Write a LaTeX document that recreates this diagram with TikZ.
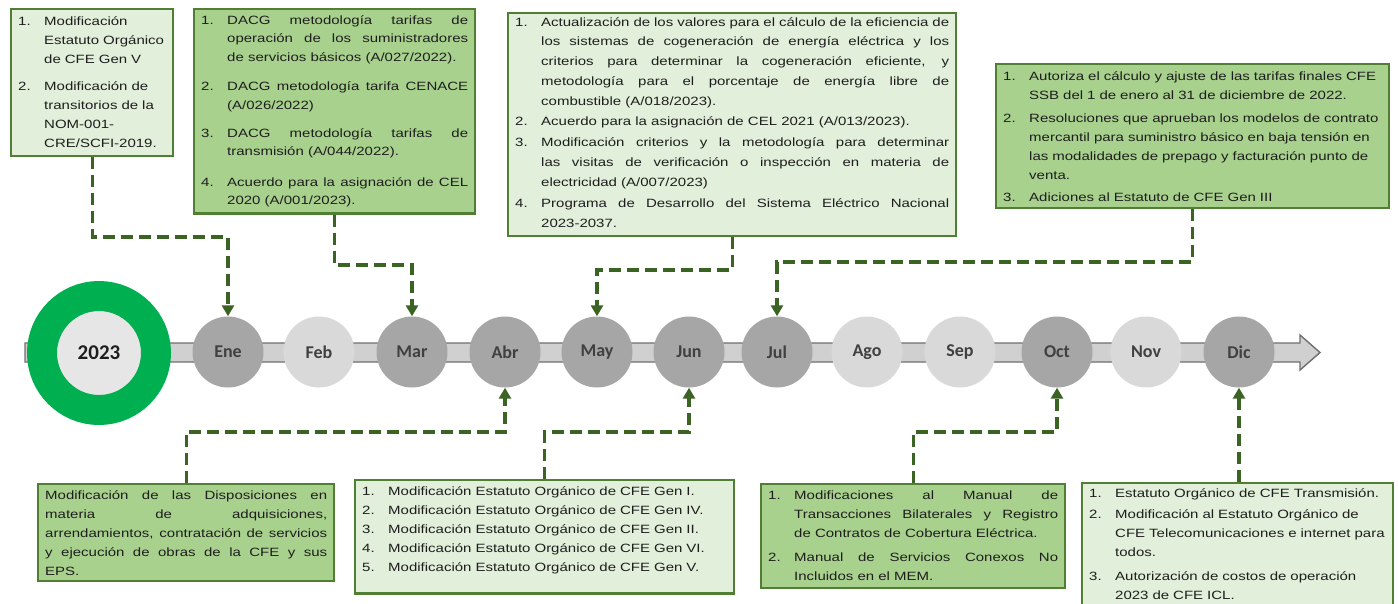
\documentclass[tikz,border=0pt]{standalone}
\usepackage{fontspec}
\setmainfont{Liberation Sans}[FakeStretch=1.25]
\newfontfamily\mesfuente{Carlito}
\usepackage{xcolor}
\usetikzlibrary{positioning}
\usetikzlibrary{arrows.meta}

\definecolor{claro}{HTML}{E2EFDA}
\definecolor{medio}{HTML}{A9D18E}
\definecolor{borde}{HTML}{507E32}
\definecolor{liga}{HTML}{3B6323}
\definecolor{anillo}{HTML}{00B050}
\definecolor{centro}{HTML}{E7E6E6}
\definecolor{mesoscuro}{HTML}{A6A6A6}
\definecolor{mesclaro}{HTML}{D9D9D9}
\definecolor{texto}{HTML}{1E1E1E}
\definecolor{barraborde}{HTML}{6F6F6F}
\definecolor{barrafondo}{HTML}{D0D0D0}

\newcommand{\cajatexto}{\fontsize{12}{19}\selectfont\hyphenpenalty=10000\emergencystretch=2em\relax}
\newcommand{\punto}[3][0pt]{\vspace{#1}\noindent\hangindent=26pt\hangafter=1\makebox[26pt][l]{#2.}#3\par}

\tikzset{
  caja/.style={draw=borde, line width=2.4pt, anchor=north west, inner xsep=7pt, inner ysep=5pt, text=texto, font=\cajatexto},
  cajaclara/.style={caja, fill=claro},
  cajamedia/.style={caja, fill=medio},
  mes/.style={circle, minimum size=71pt, inner sep=0pt, fill=mesoscuro, text=black!75, font=\mesfuente\bfseries\fontsize{18}{18}\selectfont},
  mesclaro/.style={mes, fill=mesclaro},
  liga/.style={draw=liga, line width=3.4pt, dash pattern=on 12pt off 6pt, -{Triangle[width=12pt,length=11pt]}}
}

\begin{document}
\begin{tikzpicture}[x=1pt, y=-1pt]
\useasboundingbox (0,0) rectangle (1398,603);

% barra del tiempo
\draw[line width=1.4pt, draw=barraborde, fill=barrafondo] (25,343) -- (1300,343) -- (1300,335) -- (1320,352.5) -- (1300,370) -- (1300,362) -- (25,362) -- cycle;

\node[circle, draw=anillo, line width=30pt, fill=centro, minimum size=114pt, inner sep=0pt, text=texto, font=\mesfuente\bfseries\fontsize{21}{21}\selectfont] (anio) at (99,353) {2023};

\node[mes] (ene) at (228,352) {Ene};
\node[mesclaro] (feb) at (319,352) {Feb};
\node[mes] (mar) at (412,352) {Mar};
\node[mes] (abr) at (505,352) {Abr};
\node[mes] (may) at (597,352) {May};
\node[mes] (jun) at (689,352) {Jun};
\node[mes] (jul) at (777,352) {Jul};
\node[mesclaro] (ago) at (867,352) {Ago};
\node[mesclaro] (sep) at (960,352) {Sep};
\node[mes] (oct) at (1057,352) {Oct};
\node[mesclaro] (nov) at (1146,352) {Nov};
\node[mes] (dic) at (1239,352) {Dic};

% cajas de arriba
\node[cajaclara, text width=148pt, inner ysep=7pt, align=left] (tene) at (10,8) {%
\punto{1}{Modificación Estatuto Orgánico de CFE Gen V}
\punto[8pt]{2}{Modificación de transitorios de la NOM-001-\newline CRE/SCFI-2019.}
\vspace{2pt}};

\node[cajamedia, text width=267pt, inner ysep=6pt, align=justify] (tmar) at (193,8) {\fontsize{12}{18.6}\selectfont%
\punto{1}{DACG metodología tarifas de operación de los suministradores de servicios básicos (A/027/2022).}
\punto[11pt]{2}{DACG metodología tarifa CENACE (A/026/2022)}
\punto[9pt]{3}{DACG metodología tarifas de transmisión (A/044/2022).}
\punto[12pt]{4}{Acuerdo para la asignación de CEL 2020 (A/001/2023).}};

\node[cajaclara, text width=434pt, inner ysep=4pt, align=justify] (tmay) at (507,12) {\fontsize{12}{19.8}\selectfont%
\punto{1}{Actualización de los valores para el cálculo de la eficiencia de los sistemas de cogeneración de energía eléctrica y los\linebreak criterios para determinar la cogeneración eficiente, y\linebreak metodología para el porcentaje de energía libre de\linebreak combustible (A/018/2023).}
\punto{2}{Acuerdo para la asignación de CEL 2021 (A/013/2023).}
\punto[2pt]{3}{Modificación criterios y la metodología para determinar las visitas de verificación o inspección en materia de\linebreak electricidad (A/007/2023)}
\punto[1pt]{4}{Programa de Desarrollo del Sistema Eléctrico Nacional\linebreak 2023-2037.}
\vspace{5pt}};

\node[cajamedia, text width=379pt, inner ysep=7pt, align=left] (tjul) at (995,63) {%
\punto{1}{Autoriza el cálculo y ajuste de las tarifas finales CFE SSB del 1 de enero al 31 de diciembre de 2022.}
\punto[4pt]{2}{Resoluciones que aprueban los modelos de contrato mercantil para suministro básico en baja tensión en las modalidades de prepago y facturación punto de venta.}
\punto[3pt]{3}{Adiciones al Estatuto de CFE Gen III}};

% cajas de abajo
\node[cajamedia, text width=282pt, inner ysep=6pt, align=justify] (babr) at (37,483) {\fontsize{12}{18}\selectfont\noindent Modificación de las Disposiciones en\linebreak materia de adquisiciones,\linebreak arrendamientos, contratación de servicios\linebreak y ejecución de obras de la CFE y sus\linebreak EPS.};

\node[cajaclara, text width=365pt, inner ysep=6pt, align=left] (bjun) at (354,479) {%
\punto{1}{Modificación Estatuto Orgánico de CFE Gen I.}
\punto{2}{Modificación Estatuto Orgánico de CFE Gen IV.}
\punto{3}{Modificación Estatuto Orgánico de CFE Gen II.}
\punto{4}{Modificación Estatuto Orgánico de CFE Gen VI.}
\punto{5}{Modificación Estatuto Orgánico de CFE Gen V.}
\vspace{14pt}};

\node[cajamedia, text width=290pt, inner ysep=7pt, align=justify] (boct) at (760,483) {%
\punto{1}{Modificaciones al Manual de Transacciones Bilaterales y Registro de Contratos de Cobertura Eléctrica.}
\punto[5pt]{2}{Manual de Servicios Conexos No Incluidos en el MEM.}};

\node[cajaclara, text width=297pt, align=left] (bdic) at (1081,482) {%
\punto{1}{Estatuto Orgánico de CFE Transmisión.}
\punto[2pt]{2}{Modificación al Estatuto Orgánico de CFE Telecomunicaciones e internet para todos.}
\punto[5pt]{3}{Autorización de costos de operación 2023 de CFE ICL.}
\vspace{14pt}};

% puntos de quiebre de las ligas
\coordinate (pasoene) at (228,237);
\coordinate (pasomar) at (412,265);
\coordinate (pasomay) at (597,270);
\coordinate (pasojul) at (777,262);
\coordinate (pasoabr) at (505,432);
\coordinate (pasojun) at (689,432);
\coordinate (pasooct) at (1057,432);

% ligas
\draw[liga] (tene.south) |- (pasoene) -- (ene.north);
\draw[liga] (tmar.south) |- (pasomar) -- (mar.north);
\draw[liga] (tmay.south) |- (pasomay) -- (may.north);
\draw[liga] (tjul.south) |- (pasojul) -- (jul.north);
\draw[liga] (babr.north) |- (pasoabr) -- (abr.south);
\draw[liga] (bjun.north) |- (pasojun) -- (jun.south);
\draw[liga] (boct.north) |- (pasooct) -- (oct.south);
\draw[liga] (dic.south |- bdic.north) -- (dic.south);
\end{tikzpicture}
\end{document}
